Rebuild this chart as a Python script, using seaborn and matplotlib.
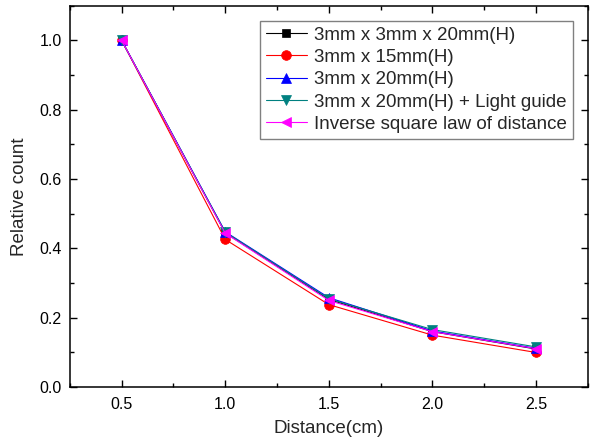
import matplotlib
matplotlib.use("Agg")
import matplotlib.pyplot as plt
import seaborn as sns
import pandas as pd
from matplotlib.ticker import MultipleLocator

# data
distance = [0.5, 1.0, 1.5, 2.0, 2.5]
s_3x3x20 = [1.0, 0.445, 0.253, 0.160, 0.110]
s_3x15 = [1.0, 0.426, 0.238, 0.150, 0.100]
s_3x20 = [1.0, 0.448, 0.258, 0.162, 0.112]
s_3x20_lg = [1.0, 0.447, 0.255, 0.166, 0.116]
s_inverse = [1.0, 0.444, 0.250, 0.160, 0.111]

labels = ["3mm x 3mm x 20mm(H)", "3mm x 15mm(H)", "3mm x 20mm(H)",
          "3mm x 20mm(H) + Light guide", "Inverse square law of distance"]
colors = ["black", "red", "blue", "#008080", "magenta"]
markers = ["s", "o", "^", "v", "<"]
msizes = [6, 7, 7.5, 7.5, 7.5]

series = [s_3x3x20, s_3x15, s_3x20, s_3x20_lg, s_inverse]
df = pd.concat([pd.DataFrame({"Distance": distance, "Relative": v, "series": lab})
                for v, lab in zip(series, labels)], ignore_index=True)

sns.set_style("ticks")
plt.rcParams['font.family'] = ['Liberation Sans', 'DejaVu Sans']

fig = plt.figure(figsize=(5.92, 4.45), dpi=100)
ax = fig.add_axes([0.118, 0.130, 0.875, 0.857])

for lab, c, m, ms in zip(labels, colors, markers, msizes):
    sub = df[df["series"] == lab]
    sns.lineplot(data=sub, x="Distance", y="Relative", ax=ax, color=c, marker=m,
                 markersize=ms, markeredgecolor=c, markeredgewidth=0.5,
                 linewidth=0.8, label=lab)

ax.set_xlim(0.25, 2.75)
ax.set_ylim(0, 1.1)
ax.xaxis.set_major_locator(MultipleLocator(0.5))
ax.xaxis.set_minor_locator(MultipleLocator(0.25))
ax.yaxis.set_major_locator(MultipleLocator(0.2))
ax.yaxis.set_minor_locator(MultipleLocator(0.1))
ax.tick_params(which="both", direction="in", top=True, right=True, colors="black")
ax.tick_params(which="major", length=5, width=1, labelsize=11.5)
ax.tick_params(axis="x", which="major", pad=7)
ax.tick_params(axis="y", which="major", pad=6)
ax.tick_params(which="minor", length=3, width=1)
for sp in ax.spines.values():
    sp.set_visible(True)
    sp.set_linewidth(1.1)
    sp.set_color("black")

ax.set_xlabel("Distance(cm)", fontsize=13.5, labelpad=6)
ax.set_ylabel("Relative count", fontsize=13.5, labelpad=8)

leg = ax.legend(loc="upper right", fontsize=13.5, frameon=True, fancybox=False,
                edgecolor="#808080", framealpha=1, handlelength=2.2,
                handletextpad=0.4, labelspacing=0.28, borderpad=0.3,
                borderaxespad=0.8)
leg.get_frame().set_linewidth(1.0)

fig.savefig("out.png", dpi=100)
